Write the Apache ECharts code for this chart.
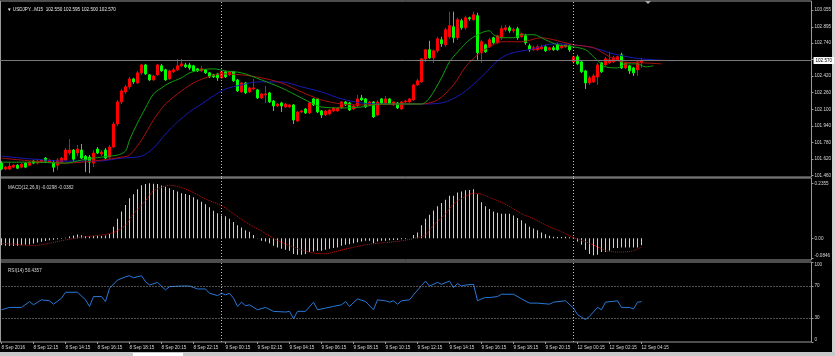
<!DOCTYPE html>
<html><head><meta charset="utf-8">
<script src="https://cdn.jsdelivr.net/npm/echarts/dist/echarts.min.js"></script>
<style>html,body{margin:0;padding:0;background:#000;}#c{width:835px;height:356px;}</style>
</head><body><div id="c"></div>
<script>
// ---- data ----
const timeTickLabels = ['8 Sep 2016','8 Sep 12:15','8 Sep 14:15','8 Sep 16:15','8 Sep 18:15','8 Sep 20:15','8 Sep 22:15',
 '9 Sep 00:15','9 Sep 02:15','9 Sep 04:15','9 Sep 06:15','9 Sep 08:15','9 Sep 10:15','9 Sep 12:15','9 Sep 14:15',
 '9 Sep 16:15','9 Sep 18:15','9 Sep 20:15','12 Sep 00:15','12 Sep 02:15','12 Sep 04:15'];
const priceTickValues = [101.460,101.620,101.780,101.940,102.100,102.260,102.420,102.580,102.740,102.895,103.055];
const priceLabelValues = [101.460,101.620,101.780,101.940,102.100,102.260,102.420,102.740,102.895,103.055];
const macdTickValues = [-0.0846, 0, 0.2355];
const macdTickTexts = ['-0.0846','0.00','0.2355'];
const rsiTickValues = [0,30,70,100];
const rsiLevels = [70,30];
const currentPrice = 102.570;
const daySeparators = [55,143];

// [open, close, low, high]
const candles = [
[101.581,101.523,101.513,101.600],[101.523,101.542,101.513,101.552],[101.523,101.552,101.513,101.590],[101.542,101.561,101.532,101.571],
[101.561,101.532,101.523,101.571],[101.542,101.571,101.532,101.581],[101.581,101.542,101.532,101.590],[101.561,101.590,101.552,101.600],
[101.600,101.581,101.571,101.610],[101.581,101.600,101.571,101.610],[101.590,101.610,101.581,101.619],[101.629,101.600,101.590,101.639],
[101.590,101.610,101.581,101.619],[101.590,101.542,101.494,101.610],[101.561,101.610,101.513,101.629],[101.590,101.629,101.581,101.639],
[101.610,101.707,101.600,101.726],[101.678,101.707,101.658,101.813],[101.707,101.619,101.600,101.716],[101.678,101.716,101.648,101.755],
[101.707,101.629,101.619,101.765],[101.648,101.610,101.494,101.658],[101.639,101.590,101.484,101.658],[101.581,101.678,101.542,101.707],
[101.716,101.678,101.668,101.736],[101.668,101.687,101.648,101.707],[101.707,101.629,101.610,101.726],[101.639,101.736,101.619,101.755],
[101.736,101.958,101.726,101.977],[101.958,102.171,101.939,102.190],[102.171,102.277,102.151,102.296],[102.267,102.316,102.248,102.335],
[102.316,102.393,102.296,102.412],[102.393,102.364,102.345,102.403],[102.354,102.451,102.345,102.470],[102.451,102.528,102.432,102.538],
[102.528,102.441,102.432,102.538],[102.432,102.383,102.374,102.441],[102.383,102.422,102.374,102.432],[102.432,102.528,102.422,102.538],
[102.519,102.470,102.461,102.538],[102.480,102.383,102.374,102.490],[102.393,102.470,102.383,102.480],[102.461,102.480,102.451,102.499],
[102.480,102.519,102.470,102.586],[102.519,102.538,102.509,102.586],[102.528,102.509,102.499,102.548],[102.528,102.499,102.480,102.548],
[102.519,102.470,102.461,102.528],[102.490,102.470,102.461,102.499],[102.470,102.490,102.461,102.519],[102.480,102.451,102.441,102.490],
[102.451,102.412,102.403,102.461],[102.432,102.412,102.403,102.441],[102.441,102.403,102.374,102.451],[102.403,102.461,102.393,102.470],
[102.461,102.412,102.403,102.470],[102.432,102.461,102.422,102.470],[102.461,102.374,102.364,102.470],[102.383,102.277,102.267,102.393],
[102.267,102.354,102.258,102.364],[102.354,102.258,102.248,102.364],[102.267,102.306,102.258,102.316],[102.296,102.306,102.287,102.393],
[102.287,102.209,102.200,102.296],[102.209,102.248,102.200,102.258],[102.238,102.248,102.161,102.325],[102.258,102.171,102.161,102.267],
[102.180,102.132,102.084,102.190],[102.132,102.151,102.122,102.161],[102.161,102.132,102.074,102.171],[102.122,102.151,102.113,102.161],
[102.122,102.142,102.113,102.151],[102.142,101.997,101.958,102.151],[101.987,102.074,101.977,102.084],[102.074,102.084,102.064,102.093],
[102.103,102.064,102.055,102.113],[102.064,102.161,102.055,102.171],[102.200,102.142,102.132,102.209],[102.200,102.074,102.064,102.209],
[102.084,102.045,102.016,102.093],[102.045,102.084,102.035,102.093],[102.055,102.093,102.045,102.103],[102.084,102.113,102.074,102.122],
[102.084,102.113,102.074,102.122],[102.113,102.171,102.103,102.180],[102.171,102.142,102.132,102.180],[102.161,102.093,102.084,102.171],
[102.103,102.132,102.093,102.142],[102.132,102.200,102.122,102.238],[102.209,102.190,102.180,102.238],[102.200,102.122,102.113,102.209],
[102.142,102.171,102.132,102.180],[102.171,102.026,102.016,102.180],[102.045,102.171,102.035,102.190],[102.200,102.161,102.151,102.209],
[102.161,102.200,102.151,102.229],[102.200,102.151,102.142,102.209],[102.142,102.171,102.132,102.180],[102.161,102.113,102.103,102.171],
[102.103,102.171,102.093,102.180],[102.171,102.180,102.161,102.190],[102.171,102.200,102.161,102.209],[102.190,102.335,102.180,102.345],
[102.335,102.374,102.325,102.393],[102.364,102.586,102.354,102.596],[102.586,102.674,102.557,102.683],[102.674,102.596,102.586,102.761],
[102.596,102.664,102.548,102.674],[102.664,102.780,102.645,102.799],[102.770,102.732,102.702,102.799],[102.722,102.867,102.702,102.886],
[102.799,102.906,102.780,103.041],[102.896,102.790,102.741,103.041],[102.790,102.964,102.770,102.983],[102.954,102.886,102.867,102.973],
[102.886,102.983,102.867,103.002],[102.983,102.973,102.954,102.993],[102.964,103.012,102.954,103.041],[103.002,102.645,102.577,103.031],
[102.645,102.751,102.548,102.770],[102.722,102.654,102.645,102.732],[102.702,102.770,102.693,102.790],[102.790,102.741,102.732,102.799],
[102.741,102.809,102.732,102.819],[102.790,102.877,102.770,102.906],[102.867,102.886,102.848,102.915],[102.886,102.857,102.838,102.906],
[102.857,102.867,102.838,102.886],[102.877,102.790,102.770,102.896],[102.799,102.828,102.790,102.838],[102.809,102.741,102.722,102.828],
[102.712,102.674,102.654,102.732],[102.674,102.693,102.664,102.712],[102.674,102.702,102.664,102.722],[102.683,102.702,102.674,102.722],
[102.702,102.664,102.654,102.722],[102.674,102.693,102.664,102.702],[102.693,102.674,102.664,102.712],[102.722,102.674,102.664,102.741],
[102.693,102.712,102.683,102.732],[102.702,102.722,102.693,102.732],[102.712,102.674,102.654,102.722],[102.557,102.606,102.538,102.616],
[102.606,102.538,102.528,102.625],[102.557,102.461,102.451,102.567],[102.470,102.354,102.296,102.480],[102.354,102.403,102.335,102.422],
[102.364,102.422,102.354,102.441],[102.412,102.528,102.335,102.548],[102.548,102.461,102.451,102.557],[102.528,102.586,102.519,102.606],
[102.548,102.577,102.538,102.654],[102.557,102.596,102.548,102.616],[102.577,102.606,102.567,102.616],[102.625,102.499,102.490,102.645],
[102.499,102.548,102.490,102.557],[102.519,102.470,102.441,102.528],[102.499,102.451,102.422,102.509],[102.480,102.557,102.422,102.567],
[102.550,102.570,102.500,102.595]
];

// Alligator lines, [bar index (shifted), price]
const jaw = [[0,101.648],[8,101.619],[16,101.600],[24,101.600],[30,101.629],[35,101.648],[38,101.726],[41,101.861],[44,101.977],
 [47,102.074],[50,102.151],[53,102.229],[56,102.296],[60,102.335],[64,102.364],[70,102.364],[75,102.316],[80,102.267],[85,102.200],
 [90,102.161],[95,102.151],[105,102.151],[110,102.161],[115,102.248],[120,102.412],[124,102.567],[127,102.635],[133,102.683],
 [138,102.732],[143,102.722],[148,102.693],[153,102.635],[158,102.596],[163,102.577],[168,102.567]];
const teeth = [[0,101.629],[8,101.600],[16,101.581],[25,101.610],[30,101.639],[32,101.658],[35,101.803],[38,101.997],[41,102.151],
 [45,102.277],[48,102.354],[51,102.403],[55,102.441],[60,102.432],[65,102.403],[70,102.354],[75,102.267],[80,102.190],[85,102.151],
 [90,102.142],[100,102.151],[105,102.151],[109,102.190],[113,102.335],[116,102.509],[119,102.625],[122,102.702],[125,102.751],
 [130,102.751],[135,102.790],[139,102.761],[143,102.722],[148,102.693],[152,102.606],[155,102.557],[160,102.548],[165,102.538]];
const lips = [[0,101.590],[8,101.590],[16,101.581],[20,101.610],[23,101.629],[27,101.648],[29,101.658],[31,101.697],[32,101.803],
 [34,101.968],[36,102.113],[38,102.248],[40,102.306],[42,102.354],[45,102.403],[47,102.451],[50,102.480],[53,102.490],[56,102.470],
 [60,102.451],[65,102.383],[70,102.306],[75,102.209],[78,102.151],[80,102.122],[85,102.113],[90,102.122],[95,102.151],[105,102.151],
 [107,102.209],[110,102.403],[112,102.557],[115,102.693],[117,102.770],[120,102.838],[122,102.857],[123,102.819],[125,102.790],
 [128,102.790],[130,102.819],[133,102.819],[136,102.770],[139,102.722],[143,102.702],[146,102.674],[148,102.606],[151,102.509],
 [154,102.499],[156,102.538],[159,102.538],[161,102.509],[163,102.519]];

const macdHist = [-0.030,-0.032,-0.033,-0.033,-0.032,-0.030,-0.028,-0.026,-0.022,-0.018,-0.015,-0.012,-0.008,-0.006,-0.004,-0.002,
 0.002,0.008,0.012,0.016,0.013,0.010,0.008,0.010,0.011,0.010,0.012,0.018,0.049,0.084,0.115,0.143,0.171,0.189,0.210,0.227,0.233,0.2355,
 0.234,0.232,0.226,0.221,0.214,0.207,0.200,0.193,0.190,0.185,0.176,0.166,0.156,0.146,0.133,0.118,0.107,0.098,0.094,0.084,0.070,0.056,
 0.046,0.035,0.028,0.014,0.001,-0.011,-0.014,-0.021,-0.032,-0.039,-0.045,-0.049,-0.053,-0.067,-0.070,-0.070,-0.067,-0.059,-0.056,-0.053,
 -0.053,-0.049,-0.045,-0.042,-0.039,-0.032,-0.028,-0.025,-0.021,-0.017,-0.014,-0.010,-0.011,-0.021,-0.014,-0.011,-0.010,-0.008,-0.007,
 -0.007,-0.004,-0.003,0.000,0.014,0.025,0.056,0.084,0.101,0.119,0.137,0.151,0.165,0.182,0.182,0.196,0.200,0.206,0.207,0.210,0.189,
 0.154,0.137,0.126,0.115,0.109,0.105,0.105,0.105,0.098,0.087,0.077,0.063,0.049,0.042,0.035,0.025,0.017,0.011,0.007,0.006,0.006,0.007,
 0.004,0.003,-0.014,-0.028,-0.049,-0.067,-0.073,-0.070,-0.059,-0.059,-0.053,-0.042,-0.042,-0.039,-0.039,-0.039,-0.039,-0.039,-0.0298];
const macdSignal = [[0,-0.021],[5,-0.028],[8,-0.031],[12,-0.021],[16,-0.007],[21,0.007],[25,0.014],[28,0.025],[31,0.056],[33,0.105],
 [36,0.161],[38,0.203],[41,0.224],[42,0.227],[45,0.217],[48,0.196],[51,0.168],[55,0.140],[58,0.105],[61,0.070],[65,0.031],[68,0.000],
 [71,-0.025],[75,-0.049],[78,-0.063],[81,-0.066],[83,-0.059],[87,-0.042],[91,-0.028],[96,-0.018],[100,-0.011],[104,0.003],[106,0.014],
 [108,0.056],[111,0.105],[113,0.147],[116,0.179],[118,0.193],[120,0.189],[122,0.175],[125,0.154],[128,0.126],[130,0.105],[133,0.084],
 [137,0.049],[140,0.028],[143,0.003],[147,-0.021],[150,-0.045],[152,-0.056],[155,-0.059],[158,-0.053],[160,-0.0382]];

const rsi = [[0,40.3],[2,43.2],[5,43.2],[7,50.6],[8,46.5],[10,52.7],[12,51.5],[13,47.3],[15,54.8],[16,62.2],[19,62.2],[21,52.7],
 [22,44.5],[23,56.8],[25,56.8],[26,50.6],[27,67.1],[29,77.4],[31,81.5],[32,82.8],[33,80.3],[35,82.8],[36,75.4],[37,71.2],[39,74.5],
 [41,65.1],[42,69.2],[45,70],[47,70],[49,66.3],[51,66.3],[52,60.9],[54,58],[55,60.9],[56,58.9],[57,60.9],[58,54.8],[59,44.5],
 [60,49.8],[61,45.3],[62,46.5],[64,40.3],[66,43.2],[68,38.3],[71,37.5],[72,38.3],[73,29.2],[74,38.3],[76,38.3],[78,49.8],[79,40.3],
 [81,42.4],[83,44.5],[85,46.5],[86,50.6],[87,44.5],[89,53.9],[91,50.6],[93,40.3],[94,52.7],[96,51.5],[97,49.8],[98,51.5],[99,47.3],
 [100,51.5],[102,52.7],[103,58.9],[105,70.5],[106,76.2],[107,70],[109,74.5],[110,72.1],[112,76.2],[113,68],[114,73.3],[115,70],
 [116,71.2],[118,72.1],[119,51.5],[120,53.9],[121,55.6],[122,55.6],[124,56.8],[125,59.7],[128,59.7],[130,53.9],[132,48.6],[134,48.6],
 [137,47.3],[138,49.8],[141,51.5],[143,42.4],[144,34.2],[146,28],[147,32.1],[149,43.2],[150,40.3],[151,49.8],[154,51.5],[155,43.2],
 [157,43.2],[158,41.2],[159,49.8],[160,50.4357]];

// ---- chart ----
const SLOTS = 203;
const cats = [];
for (let i = 0; i < SLOTS; i++) cats.push(i % 8 === 0 && timeTickLabels[i / 8] ? timeTickLabels[i / 8] : '');

const FONT = 'Liberation Sans';
const FS = 4.6;
const TXT = '#d8d8d8';
const BORDER = '#9a9a9a';

function gridDef(top, height) {
  return {left: -0.5, top: top, width: 812, height: height, show: true, borderColor: BORDER, borderWidth: 1,
          backgroundColor: 'transparent', containLabel: false, outerBoundsMode: 'none'};
}
function xDef(gi, showLabels) {
  return {type: 'category', gridIndex: gi, data: cats, boundaryGap: true,
    axisLine: {show: false},
    axisTick: {show: showLabels, alignWithLabel: true, length: 2, lineStyle: {color: BORDER},
               interval: (idx, v) => v !== ''},
    axisLabel: {show: showLabels, interval: (idx, v) => v !== '', align: 'left', margin: 3,
                color: TXT, fontSize: FS, fontFamily: FONT},
    splitLine: {show: false}};
}
const sepLine = daySeparators.map(i => ({xAxis: i}));
const sepStyle = {color: '#bdbdbd', width: 1, type: [1, 2]};

const chart = echarts.init(document.getElementById('c'), null, {renderer: 'canvas'});
chart.setOption({
  backgroundColor: '#000000',
  animation: false,
  title: [
    {text: '\u25BC USDJPY...M15  102.550 102.595 102.500 102.570', left: 2, top: 2,
     textStyle: {color: '#e8e8e8', fontSize: FS, fontWeight: 'normal', fontFamily: FONT}},
    {text: 'MACD(12,26,9) -0.0298 -0.0382', left: 3, top: 180,
     textStyle: {color: TXT, fontSize: FS, fontWeight: 'normal', fontFamily: FONT}},
    {text: 'RSI(14) 50.4357', left: 3, top: 263,
     textStyle: {color: TXT, fontSize: FS, fontWeight: 'normal', fontFamily: FONT}}
  ],
  grid: [gridDef(1, 176), gridDef(178, 82), gridDef(262, 80)],
  xAxis: [xDef(0, false), xDef(1, false), xDef(2, true)],
  yAxis: [
    {type: 'value', gridIndex: 0, position: 'right', min: 101.447, max: 103.144,
     axisLine: {show: false}, splitLine: {show: false},
     axisTick: {show: true, length: 2, lineStyle: {color: BORDER}, customValues: priceTickValues},
     axisLabel: {color: TXT, fontSize: FS, fontFamily: FONT, margin: 3, customValues: priceLabelValues,
                 formatter: v => v.toFixed(3)}},
    {type: 'value', gridIndex: 1, position: 'right', min: -0.0929, max: 0.2582,
     axisLine: {show: false}, splitLine: {show: false},
     axisTick: {show: true, length: 2, lineStyle: {color: BORDER}, customValues: macdTickValues},
     axisLabel: {color: TXT, fontSize: FS, fontFamily: FONT, margin: 3, customValues: macdTickValues,
                 verticalAlignMinLabel: 'bottom',
                 formatter: v => { const k = macdTickValues.findIndex(t => Math.abs(t - v) < 1e-6); return k >= 0 ? macdTickTexts[k] : ''; }}},
    {type: 'value', gridIndex: 2, position: 'right', min: 0, max: 100,
     axisLine: {show: false}, splitLine: {show: false},
     axisTick: {show: true, length: 2, lineStyle: {color: BORDER}, customValues: rsiTickValues},
     axisLabel: {color: TXT, fontSize: FS, fontFamily: FONT, margin: 3, customValues: rsiTickValues,
                 verticalAlignMinLabel: 'bottom', verticalAlignMaxLabel: 'top',
                 formatter: v => String(Math.round(v))}}
  ],
  series: [
    {type: 'candlestick', xAxisIndex: 0, yAxisIndex: 0, data: candles, barWidth: 3,
     itemStyle: {color: '#ff0000', color0: '#00ff00', borderColor: '#ff0000', borderColor0: '#00ff00', borderWidth: 1},
     markLine: {silent: true, symbol: 'none', animation: false,
       data: [
         ...sepLine.map(d => Object.assign({}, d, {lineStyle: sepStyle, label: {show: false}})),
         {yAxis: currentPrice, lineStyle: {color: '#7a7a7a', width: 1, type: 'solid'},
          label: {show: true, position: 'end', distance: 2, formatter: currentPrice.toFixed(3), color: '#000000',
                  backgroundColor: '#ffffff', padding: [1, 2, 1, 2], fontSize: FS, fontFamily: FONT}}
       ]}},
    {type: 'line', xAxisIndex: 0, yAxisIndex: 0, data: jaw, showSymbol: false, smooth: 0.3,
     lineStyle: {color: '#1a1ab4', width: 1}, z: 3},
    {type: 'line', xAxisIndex: 0, yAxisIndex: 0, data: teeth, showSymbol: false, smooth: 0.3,
     lineStyle: {color: '#a81010', width: 1}, z: 3},
    {type: 'line', xAxisIndex: 0, yAxisIndex: 0, data: lips, showSymbol: false, smooth: 0.3,
     lineStyle: {color: '#10a010', width: 1}, z: 3},
    {type: 'bar', xAxisIndex: 1, yAxisIndex: 1, data: macdHist, barWidth: 1,
     itemStyle: {color: '#cfcfcf'},
     markLine: {silent: true, symbol: 'none', animation: false, label: {show: false}, lineStyle: sepStyle, data: sepLine}},
    {type: 'line', xAxisIndex: 1, yAxisIndex: 1, data: macdSignal, showSymbol: false, smooth: 0.3, z: 4,
     lineStyle: {color: '#d01010', width: 1, type: [1, 1]}},
    {type: 'line', xAxisIndex: 2, yAxisIndex: 2, data: rsi, showSymbol: false,
     lineStyle: {color: '#2a78d6', width: 1},
     markLine: {silent: true, symbol: 'none', animation: false, label: {show: false},
       data: [
         ...sepLine.map(d => Object.assign({}, d, {lineStyle: sepStyle})),
         ...rsiLevels.map(v => ({yAxis: v, lineStyle: {color: '#a0a0a0', width: 1, type: [1, 2]}}))
       ]}}
  ],
  graphic: [
    {type: 'rect', shape: {x: 0, y: 1, width: 1, height: 341}, style: {fill: BORDER}, silent: true},
    {type: 'polygon', shape: {points: [[645, 1], [651, 1], [648, 4]]}, style: {fill: '#a8a8a8'}, silent: true},
    {type: 'rect', shape: {x: 832, y: 0, width: 3, height: 352}, style: {fill: '#d0d0d0'}, silent: true},
    {type: 'rect', shape: {x: 0, y: 352, width: 835, height: 4}, style: {fill: '#c8c8c8'}, silent: true},
    {type: 'rect', shape: {x: 133, y: 353, width: 50, height: 3}, style: {fill: '#ffffff'}, silent: true}
  ]
});
</script>
</body></html>
